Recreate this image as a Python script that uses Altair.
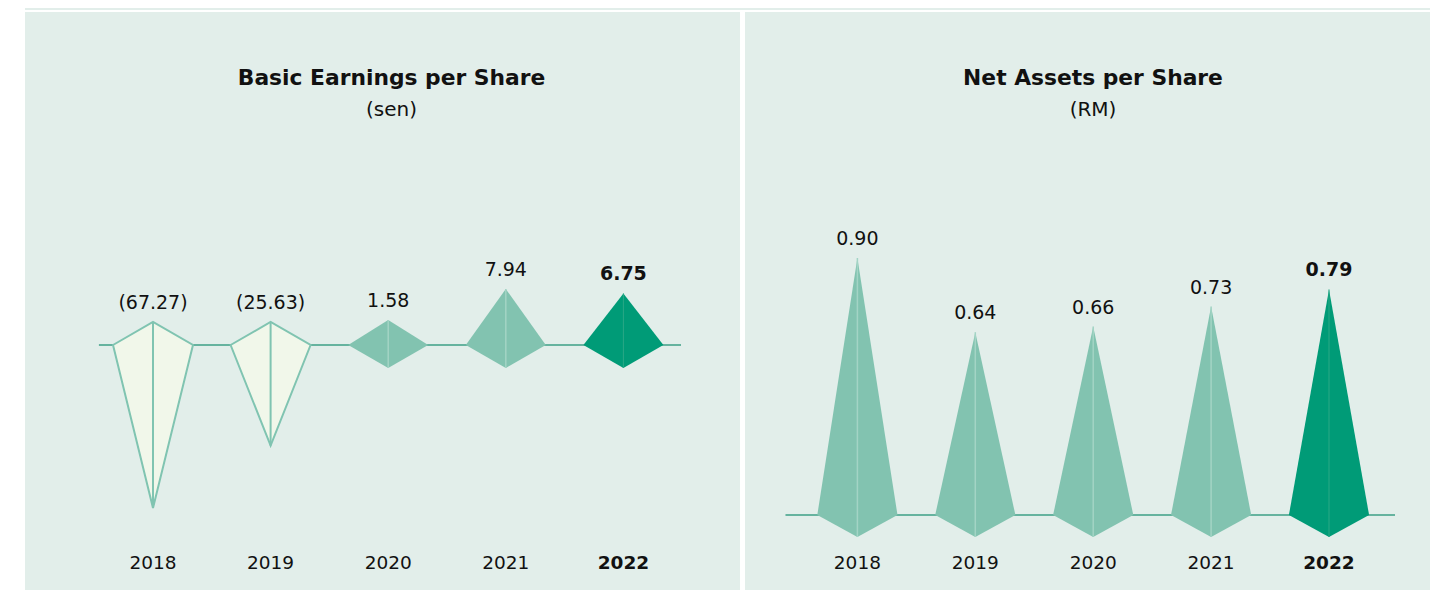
import altair as alt
import pandas as pd

# ---- data ----
years = [2018, 2019, 2020, 2021, 2022]
eps_values = [-67.27, -25.63, 1.58, 7.94, 6.75]      # Basic Earnings per Share (sen)
nav_values = [0.90, 0.64, 0.66, 0.73, 0.79]          # Net Assets per Share (RM)

# ---- styling ----
FONT = "DejaVu Sans"
PANEL_BG = "#e2eeea"
BASE_LINE = "#3d9f86"
KIND_DOMAIN = ["neg", "pos", "latest"]
KIND_FILL = ["#f1f7ea", "#82c3b0", "#009b77"]
KIND_MID = ["#80c4b1", "#a3d4c5", "#2aa886"]
KIND_MIDW = [2, 1, 1]
OUTLINE = "#80c4b1"
LATEST = years[-1]


def kind_of(year, v):
    if v < 0:
        return "neg"
    return "latest" if year == LATEST else "pos"


def kite_frames(values, stub, half, ext):
    rows, tips = [], []
    for yr, v in zip(years, values):
        k = kind_of(yr, v)
        top = v if v > 0 else stub
        bot = v if v < 0 else -stub
        for dx in (-half, 0.0, half):
            rows.append(dict(year=yr, x=yr + dx,
                             upper=top if dx == 0 else 0.0,
                             lower=bot if dx == 0 else 0.0, kind=k))
        label = f"({abs(v):.2f})" if v < 0 else f"{v:.2f}"
        tips.append(dict(year=yr, top=top, bottom=bot, label=label, kind=k,
                         ylabel=str(yr), a=years[0] - ext[0], b=LATEST + ext[1], zero=0.0))
    return pd.DataFrame(rows), pd.DataFrame(tips)


def panel(title, unit, values, stub, half, ext, xscale, yscale, width, height, cx):
    kites, tips = kite_frames(values, stub, half, ext)
    x = alt.X("x:Q", scale=xscale, axis=None)
    xy = alt.X("year:Q", scale=xscale, axis=None)
    fill = alt.Color("kind:N", scale=alt.Scale(domain=KIND_DOMAIN, range=KIND_FILL), legend=None)

    base = alt.Chart(tips.head(1)).mark_rule(color=BASE_LINE, strokeWidth=1.5).encode(
        x=alt.X("a:Q", scale=xscale, axis=None),
        x2="b:Q",
        y=alt.Y("zero:Q", scale=yscale, axis=None),
    )
    area_pos = alt.Chart(kites).transform_filter("datum.kind != 'neg'").mark_area(
        strokeWidth=0, orient="vertical"
    ).encode(
        x=x, y=alt.Y("upper:Q", scale=yscale, axis=None, stack=None), y2="lower:Q",
        color=fill, detail="year:N",
    )
    area_neg = alt.Chart(kites).transform_filter("datum.kind == 'neg'").mark_area(
        stroke=OUTLINE, strokeWidth=2, strokeJoin="miter", orient="vertical"
    ).encode(
        x=x, y=alt.Y("upper:Q", scale=yscale, axis=None, stack=None), y2="lower:Q",
        color=fill, detail="year:N",
    )
    mid = alt.Chart(tips).mark_rule().encode(
        x=xy,
        y=alt.Y("top:Q", scale=yscale, axis=None), y2="bottom:Q",
        stroke=alt.Stroke("kind:N", scale=alt.Scale(domain=KIND_DOMAIN, range=KIND_MID), legend=None),
        strokeWidth=alt.StrokeWidth("kind:N", scale=alt.Scale(domain=KIND_DOMAIN, range=KIND_MIDW), legend=None),
    )
    layers = [base, area_neg, area_pos, mid]
    for cond, weight in ((f"datum.year != {LATEST}", "normal"), (f"datum.year == {LATEST}", "bold")):
        layers.append(alt.Chart(tips).transform_filter(cond).mark_text(
            font=FONT, fontSize=19, fontWeight=weight, baseline="bottom", dy=-9, color="#111111"
        ).encode(x=xy, y=alt.Y("top:Q", scale=yscale, axis=None), text="label:N"))
        layers.append(alt.Chart(tips).transform_filter(cond).mark_text(
            font=FONT, fontSize=18.5, fontWeight=weight, baseline="middle", color="#111111"
        ).encode(x=xy, y=alt.value(551), text="ylabel:N"))
    tdf = pd.DataFrame({"t": [title], "u": [unit]})
    layers.append(alt.Chart(tdf).mark_text(
        font=FONT, fontSize=21.8, fontWeight="bold", baseline="middle", color="#111111"
    ).encode(x=alt.value(cx), y=alt.value(66), text="t:N"))
    layers.append(alt.Chart(tdf).mark_text(
        font=FONT, fontSize=20, baseline="middle", color="#111111"
    ).encode(x=alt.value(cx), y=alt.value(98), text="u:N"))

    return alt.layer(*layers).properties(width=width, height=height)


H = 578
left = panel(
    "Basic Earnings per Share", "(sen)", eps_values, stub=1.34, half=0.34, ext=(0.46, 0.49),
    xscale=alt.Scale(domain=[2018, 2022], range=[128, 598.4], nice=False, zero=False),
    yscale=alt.Scale(type="sqrt", domain=[-70, 70], range=[499.2, 166.8], nice=False, zero=False),
    width=715, height=H, cx=366.5,
)
right = panel(
    "Net Assets per Share", "(RM)", nav_values, stub=0.077, half=0.34, ext=(0.61, 0.56),
    xscale=alt.Scale(domain=[2018, 2022], range=[112.4, 584], nice=False, zero=False),
    yscale=alt.Scale(domain=[0, 1], range=[503, 217.4], nice=False, zero=False),
    width=685, height=H, cx=348,
)

strip = alt.Chart(pd.DataFrame({"v": [0]})).mark_rect(color=PANEL_BG).encode(
    x=alt.value(0), x2=alt.value(1405), y=alt.value(0), y2=alt.value(2)
).properties(width=1405, height=2)

chart = alt.vconcat(
    strip,
    alt.hconcat(left, right, spacing=5),
    spacing=2,
).properties(
    padding={"left": 17, "top": 0, "right": 0, "bottom": 0},
    background="white",
).configure_view(fill=PANEL_BG, stroke=None)

chart.save("out.html", embed_options={"renderer": "svg", "actions": False})
